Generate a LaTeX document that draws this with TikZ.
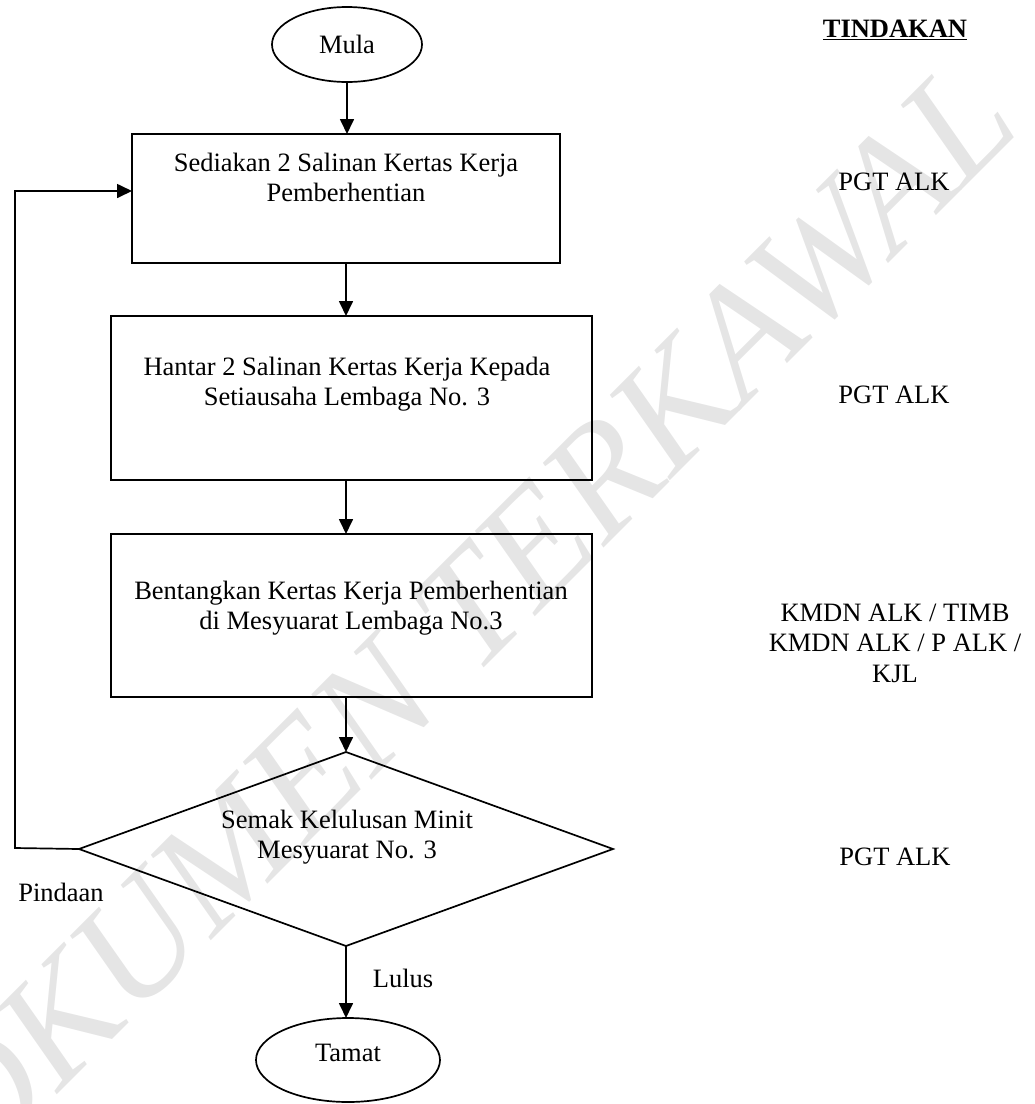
\documentclass[tikz,border=0pt]{standalone}
\usepackage{fontspec}
\setmainfont{Liberation Serif}
\usetikzlibrary{shapes.geometric,arrows.meta}
\begin{document}
\begin{tikzpicture}[x=1pt,y=-1pt,
  every node/.style={inner sep=0pt, outer sep=0pt},
  txt/.style={font=\fontsize{26.5}{30.5}\selectfont, align=center},
  term/.style={draw, line width=1.7pt, ellipse},
  procbox/.style={draw, line width=1.7pt, rectangle},
  decis/.style={draw, line width=1.7pt, diamond},
  arr/.style={line width=1.7pt, -{Triangle[length=15pt,width=14pt]}},
  conn/.style={line width=1.7pt}]
\useasboundingbox (0,0) rectangle (1035,1104);
% watermark
\begin{scope}
\clip (0,0) rectangle (1035,1104);
\node[rotate=45, text=black!10, font=\fontsize{157}{157}\selectfont\itshape] (wm) at (425,655) {DOKUMEN TERKAWAL};
\end{scope}
% shapes
\node[term, minimum width=150pt, minimum height=75pt] (mula) at (347,44.5) {};
\node[txt] (mulat) at (347,44.5) {Mula};
\node[procbox, minimum width=428pt, minimum height=129pt] (b1) at (346,198.5) {};
\node[txt] (b1t) at (346,177.5) {Sediakan 2 Salinan Kertas Kerja\\Pemberhentian};
\node[procbox, minimum width=481pt, minimum height=164pt] (b2) at (351.5,398) {};
\node[txt] (b2t) at (347,384) {Hantar 2 Salinan Kertas Kerja Kepada\\Setiausaha Lembaga No. 3};
\node[procbox, minimum width=481pt, minimum height=163pt] (b3) at (351.5,615.5) {};
\node[txt] (b3t) at (351,608) {Bentangkan Kertas Kerja Pemberhentian\\di Mesyuarat Lembaga No.3};
\node[decis, minimum width=534pt, minimum height=194pt] (dia) at (346,849) {};
\node[txt] (diat) at (347,837) {Semak Kelulusan Minit\\Mesyuarat No. 3};
\node[term, minimum width=184pt, minimum height=84pt] (tamat) at (348,1060) {};
\node[txt] (tamatt) at (348,1053) {Tamat};
% labels
\node[txt] (pindaan) at (61,892) {Pindaan};
\node[txt] (lulus) at (403,978) {Lulus};
\node[txt] (tind) at (895,30) {\underline{\textbf{TINDAKAN}}};
\node[txt] (a1) at (894,182) {PGT ALK};
\node[txt] (a2) at (894,395) {PGT ALK};
\node[txt] (a3) at (895,643) {KMDN ALK / TIMB\\KMDN ALK / P ALK /\\KJL};
\node[txt] (a4) at (895,857) {PGT ALK};
% connectors
\draw[arr] (mula.south) -- (b1.north -| mula.south);
\draw[arr] (b1.south) -- (b2.north -| b1.south);
\draw[arr] (b2.south -| b1.south) -- (b3.north -| b1.south);
\draw[arr] (b3.south -| dia.north) -- (dia.north);
\draw[arr] (dia.south) -- (tamat.north -| dia.south);
\coordinate (loopc) at (15,848);
\draw[arr] (dia.west) -- (loopc) |- ([yshift=7.5pt]b1.west);
\end{tikzpicture}
\end{document}
